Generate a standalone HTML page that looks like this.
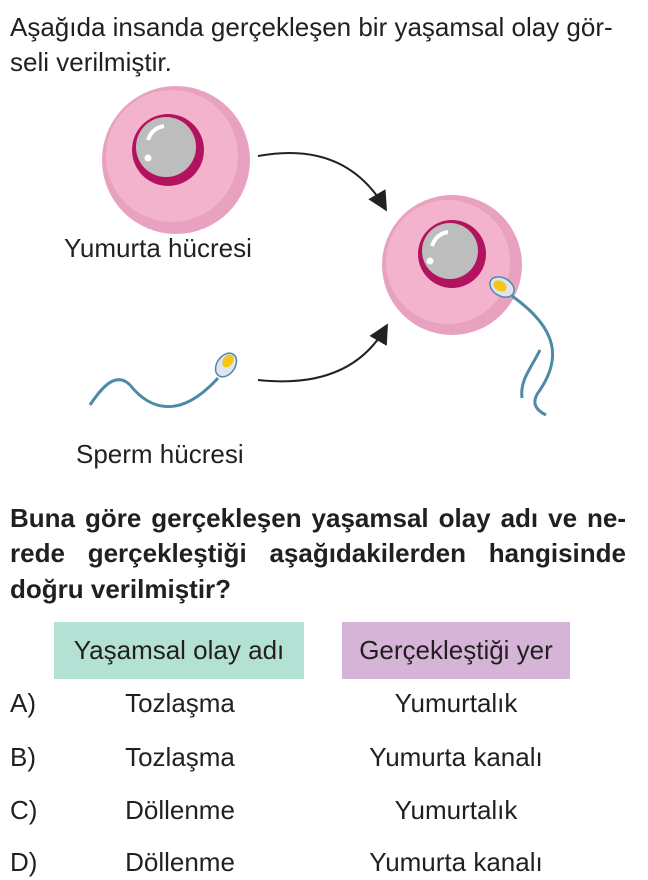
<!DOCTYPE html>
<html><head><meta charset="utf-8"><style>
body{margin:0;width:648px;height:880px;background:#fff;font-family:"Liberation Sans",sans-serif;color:#231f20;position:relative;overflow:hidden}
.t{position:absolute;white-space:nowrap;font-size:26px}
</style></head><body>
<div class="t" style="left:10px;top:12px;">Aşağıda insanda gerçekleşen bir yaşamsal olay gör-</div>
<div class="t" style="left:10px;top:47px;">seli verilmiştir.</div>
<svg width="648" height="480" style="position:absolute;left:0;top:0">
<defs><marker id="a" markerWidth="10" markerHeight="10" refX="8" refY="5" orient="auto"><path d="M0,0 L10,5 L0,10 z" fill="#222"/></marker></defs>
<g>
<circle cx="176" cy="160" r="74" fill="#e8a2bf"/>
<circle cx="172" cy="156" r="66" fill="#f4b3cc"/>
<circle cx="168" cy="150" r="36" fill="#b3125f"/>
<circle cx="166" cy="147" r="30" fill="#bdbdbd"/>
<path d="M148,140 Q152,128 164,126" stroke="#fff" stroke-width="4" fill="none"/>
<circle cx="148" cy="158" r="3.5" fill="#fff"/>
</g>
<g>
<circle cx="452" cy="265" r="70" fill="#e8a2bf"/>
<circle cx="448" cy="262" r="62" fill="#f4b3cc"/>
<circle cx="452" cy="254" r="34" fill="#b3125f"/>
<circle cx="450" cy="251" r="28" fill="#bdbdbd"/>
<path d="M432,246 Q436,234 448,232" stroke="#fff" stroke-width="4" fill="none"/>
<circle cx="430" cy="261" r="3.5" fill="#fff"/>
</g>
<path d="M258,156 Q345,140 385,208" stroke="#222" stroke-width="2" fill="none" marker-end="url(#a)"/>
<path d="M258,380 Q350,390 386,327" stroke="#222" stroke-width="2" fill="none" marker-end="url(#a)"/>
<path d="M218,378 C180,420 150,410 130,385 C115,370 100,390 90,405" stroke="#4c8aa8" stroke-width="3" fill="none"/>
<ellipse cx="226" cy="365" rx="9" ry="13" transform="rotate(35 226 365)" fill="#dfe4ee" stroke="#4c8aa8" stroke-width="1.5"/>
<ellipse cx="228" cy="361" rx="5" ry="7" transform="rotate(35 228 361)" fill="#f5c518"/>
<path d="M512,296 C560,330 560,360 540,390 C528,405 540,412 546,415" stroke="#4c8aa8" stroke-width="3" fill="none"/>
<path d="M540,350 C530,370 520,380 522,398" stroke="#4c8aa8" stroke-width="3" fill="none"/>
<ellipse cx="502" cy="287" rx="13" ry="9" transform="rotate(30 502 287)" fill="#dfe4ee" stroke="#4c8aa8" stroke-width="1.5"/>
<ellipse cx="500" cy="286" rx="7" ry="5" transform="rotate(30 500 286)" fill="#f5c518"/>
</svg>
<div class="t" style="left:64px;top:233px;">Yumurta hücresi</div>
<div class="t" style="left:76px;top:439px;">Sperm hücresi</div>
<div class="t" style="left:10px;top:503px;font-weight:bold;width:616px;text-align:justify;text-align-last:justify;white-space:normal">Buna göre gerçekleşen yaşamsal olay adı ve ne-</div>
<div class="t" style="left:10px;top:538px;font-weight:bold;width:616px;text-align:justify;text-align-last:justify;white-space:normal">rede gerçekleştiği aşağıdakilerden hangisinde</div>
<div class="t" style="left:10px;top:574px;font-weight:bold">doğru verilmiştir?</div>
<div class="t" style="left:54px;top:622px;width:250px;height:57px;background:#b3e2d4;line-height:57px;text-align:center">Yaşamsal olay adı</div>
<div class="t" style="left:342px;top:622px;width:228px;height:57px;background:#d5b4d8;line-height:57px;text-align:center">Gerçekleştiği yer</div>
<div class="t" style="left:10px;top:688px">A)</div><div class="t" style="left:80px;width:200px;text-align:center;top:688px">Tozlaşma</div><div class="t" style="left:346px;width:220px;text-align:center;top:688px">Yumurtalık</div>
<div class="t" style="left:10px;top:742px">B)</div><div class="t" style="left:80px;width:200px;text-align:center;top:742px">Tozlaşma</div><div class="t" style="left:346px;width:220px;text-align:center;top:742px">Yumurta kanalı</div>
<div class="t" style="left:10px;top:795px">C)</div><div class="t" style="left:80px;width:200px;text-align:center;top:795px">Döllenme</div><div class="t" style="left:346px;width:220px;text-align:center;top:795px">Yumurtalık</div>
<div class="t" style="left:10px;top:847px">D)</div><div class="t" style="left:80px;width:200px;text-align:center;top:847px">Döllenme</div><div class="t" style="left:346px;width:220px;text-align:center;top:847px">Yumurta kanalı</div>
</body></html>
